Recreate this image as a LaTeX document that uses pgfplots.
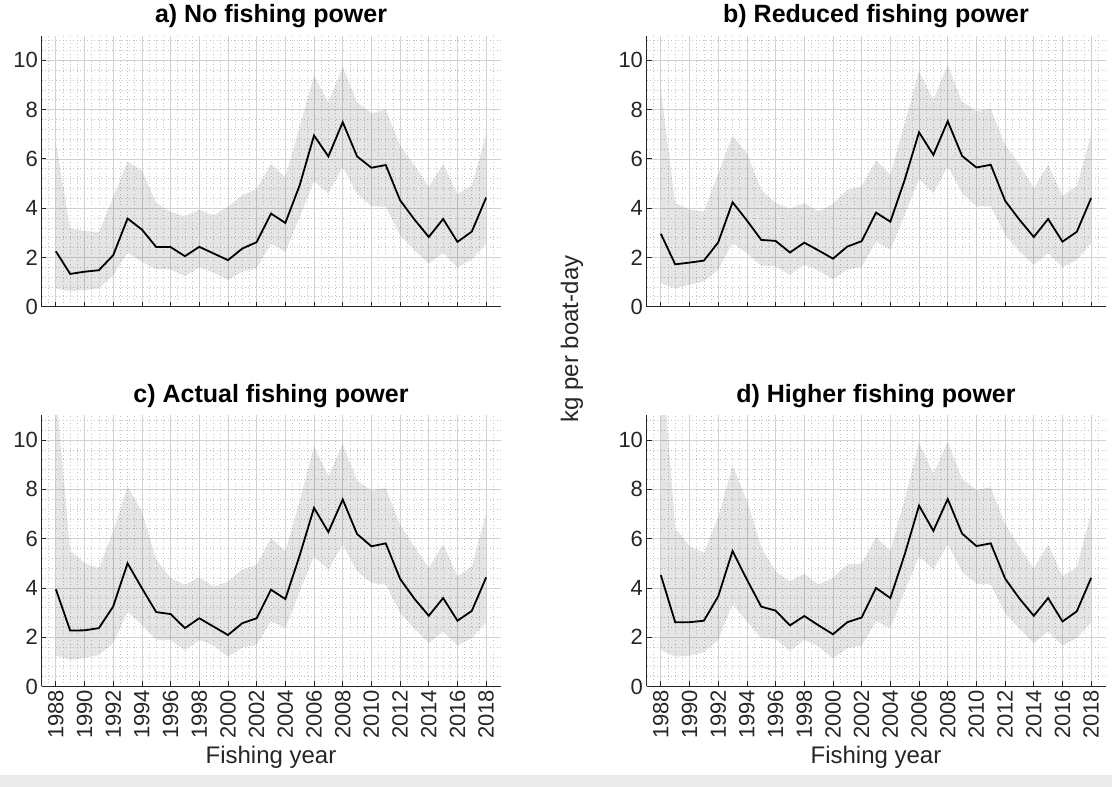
\documentclass[border=0pt]{standalone}
\usepackage{fontspec}
\setmainfont{Liberation Sans}
\usepackage{pgfplots}
\usepackage{pgfplotstable}
\pgfplotsset{compat=1.18}
\usepgfplotslibrary{fillbetween}

\definecolor{axgray}{HTML}{262626}
\definecolor{stripgray}{HTML}{EBEBEB}

\pgfplotstableread{
year mean lo hi
1988 2.25 0.74 6.70
1989 1.33 0.62 3.17
1990 1.42 0.67 3.08
1991 1.48 0.74 3.02
1992 2.09 1.28 4.45
1993 3.58 2.19 5.90
1994 3.13 1.82 5.53
1995 2.42 1.51 4.21
1996 2.42 1.51 3.85
1997 2.05 1.24 3.67
1998 2.43 1.59 3.94
1999 2.16 1.38 3.71
2000 1.89 1.08 4.05
2001 2.36 1.42 4.52
2002 2.62 1.55 4.79
2003 3.78 2.56 5.80
2004 3.40 2.23 5.26
2005 4.93 3.64 7.30
2006 6.95 5.10 9.38
2007 6.10 4.59 8.30
2008 7.49 5.67 9.74
2009 6.10 4.59 8.30
2010 5.64 4.08 7.85
2011 5.75 4.05 8.00
2012 4.32 2.90 6.55
2013 3.54 2.29 5.74
2014 2.83 1.75 4.86
2015 3.56 2.19 5.80
2016 2.63 1.59 4.56
2017 3.05 1.92 4.93
2018 4.43 2.56 6.99
}\dataA

\pgfplotstableread{
year mean lo hi
1988 2.96 0.95 8.80
1989 1.72 0.75 4.21
1990 1.79 0.89 3.94
1991 1.87 1.03 3.87
1992 2.61 1.50 5.40
1993 4.24 2.58 6.94
1994 3.50 2.18 6.23
1995 2.71 1.66 4.75
1996 2.67 1.64 4.21
1997 2.20 1.30 3.98
1998 2.60 1.70 4.21
1999 2.28 1.47 3.87
2000 1.95 1.12 4.18
2001 2.44 1.50 4.75
2002 2.66 1.61 4.88
2003 3.82 2.65 5.94
2004 3.45 2.31 5.35
2005 5.15 3.73 7.45
2006 7.08 5.18 9.55
2007 6.16 4.61 8.40
2008 7.53 5.69 9.82
2009 6.12 4.61 8.33
2010 5.65 4.07 7.93
2011 5.76 4.07 8.04
2012 4.30 2.92 6.57
2013 3.53 2.25 5.76
2014 2.83 1.70 4.81
2015 3.56 2.18 5.76
2016 2.64 1.61 4.50
2017 3.04 1.90 4.91
2018 4.41 2.58 6.98
}\dataB

\pgfplotstableread{
year mean lo hi
1988 3.95 1.25 12.00
1989 2.27 1.08 5.53
1990 2.28 1.15 5.01
1991 2.37 1.28 4.81
1992 3.25 1.76 6.30
1993 5.00 3.04 8.13
1994 3.99 2.50 7.11
1995 3.02 1.89 5.15
1996 2.94 1.89 4.40
1997 2.37 1.46 4.13
1998 2.77 1.89 4.43
1999 2.43 1.66 4.06
2000 2.09 1.21 4.26
2001 2.57 1.58 4.74
2002 2.77 1.69 4.94
2003 3.93 2.64 6.03
2004 3.55 2.37 5.49
2005 5.32 3.86 7.52
2006 7.25 5.28 9.75
2007 6.27 4.74 8.53
2008 7.59 5.76 9.85
2009 6.19 4.67 8.36
2010 5.69 4.20 7.95
2011 5.81 4.13 8.06
2012 4.37 2.98 6.57
2013 3.56 2.34 5.69
2014 2.87 1.76 4.81
2015 3.59 2.23 5.78
2016 2.67 1.66 4.47
2017 3.07 1.96 4.87
2018 4.43 2.61 7.04
}\dataC

\pgfplotstableread{
year mean lo hi
1988 4.52 1.48 14.00
1989 2.61 1.21 6.45
1990 2.61 1.25 5.70
1991 2.67 1.39 5.43
1992 3.66 1.89 6.86
1993 5.50 3.35 8.97
1994 4.34 2.64 7.54
1995 3.24 1.96 5.64
1996 3.08 1.93 4.68
1997 2.48 1.44 4.27
1998 2.86 1.89 4.57
1999 2.48 1.62 4.14
2000 2.12 1.14 4.41
2001 2.61 1.55 4.96
2002 2.80 1.66 4.98
2003 4.00 2.64 6.07
2004 3.59 2.37 5.50
2005 5.36 3.87 7.61
2006 7.34 5.29 9.89
2007 6.32 4.75 8.63
2008 7.61 5.77 9.93
2009 6.21 4.66 8.43
2010 5.70 4.17 7.98
2011 5.81 4.14 8.09
2012 4.38 2.98 6.59
2013 3.57 2.34 5.66
2014 2.87 1.76 4.79
2015 3.59 2.23 5.77
2016 2.64 1.66 4.48
2017 3.05 1.96 4.84
2018 4.41 2.61 7.03
}\dataD

\pgfplotsset{
  panel/.style={
    width=459pt, height=271pt, scale only axis,
    xmin=1987, xmax=2019, ymin=0, ymax=11,
    xtick={1988,1990,...,2018},
    ytick={0,2,...,10},
    minor xtick={1987.5,1988,...,2018.6},
    minor ytick={0.4,0.8,...,10.9},
    grid=both,
    major grid style={black!18, line width=0.7pt},
    minor grid style={black!24, dash pattern=on 0.9pt off 2.6pt, line width=0.7pt},
    axis x line=bottom, axis y line=left,
    axis line style={-, axgray, line width=0.8pt},
    major tick length=5pt, minor tick length=0pt,
    tick style={axgray, line width=0.8pt},
    tick align=inside,
    /pgf/number format/1000 sep={},
    /pgf/number format/assume math mode=true,
    tick label style={font=\fontsize{22}{22}\selectfont, text=axgray},
    xticklabel style={rotate=90, anchor=east},
    title style={font=\bfseries\fontsize{25}{25}\selectfont, text=black, yshift=-2pt},
    label style={font=\fontsize{24}{24}\selectfont, text=axgray},
  },
}

\newcommand{\panelplots}[1]{%
  \addplot[draw=none, forget plot, name path=U] table[x=year, y=hi] {#1};
  \addplot[draw=none, forget plot, name path=L] table[x=year, y=lo] {#1};
  \addplot[fill=black, fill opacity=0.1, draw=none] fill between[of=U and L];
  \addplot[black, line width=1.8pt] table[x=year, y=mean] {#1};
}

\begin{document}
\begin{tikzpicture}
\fill[stripgray] (0,0) rectangle (1112pt,12pt);

\begin{axis}[panel, at={(41.5pt,480.3pt)}, anchor=south west,
  xticklabels={}, title={a) No fishing power}]
\panelplots{\dataA}
\end{axis}

\begin{axis}[panel, at={(646.5pt,480.3pt)}, anchor=south west,
  xticklabels={}, title={b) Reduced fishing power}]
\panelplots{\dataB}
\end{axis}

\begin{axis}[panel, at={(41.5pt,100.5pt)}, anchor=south west,
  title={c) Actual fishing power}, xlabel={Fishing year}]
\panelplots{\dataC}
\end{axis}

\begin{axis}[panel, at={(646.5pt,100.5pt)}, anchor=south west,
  title={d) Higher fishing power}, xlabel={Fishing year}]
\panelplots{\dataD}
\end{axis}

\node[rotate=90, font=\fontsize{24}{24}\selectfont, text=axgray] at (572pt,448pt) {kg per boat-day};
\pgfresetboundingbox
\path (0,0) rectangle (1112pt,787pt);
\end{tikzpicture}
\end{document}
